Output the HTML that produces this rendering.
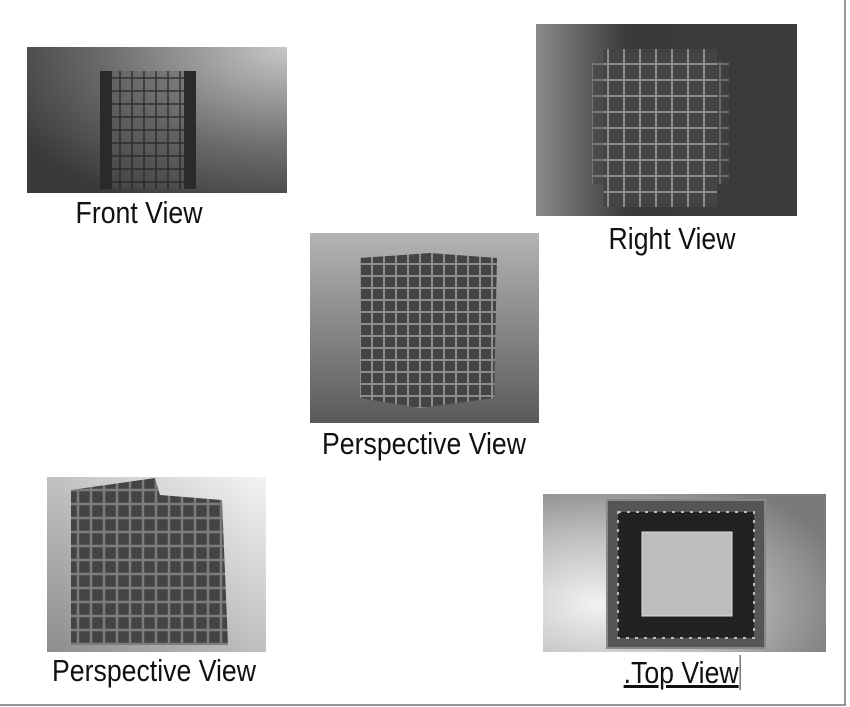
<!DOCTYPE html>
<html><head><meta charset="utf-8"><style>
body{margin:0;background:#fff;width:850px;height:707px;overflow:hidden;position:relative;font-family:"Liberation Sans Narrow","Liberation Sans",sans-serif}
.l{position:absolute;font-size:31px;color:#111;white-space:nowrap;transform:translateX(-50%) scaleX(0.86);line-height:1}
svg{position:absolute;left:0;top:0}
</style></head><body>
<svg width="850" height="707">
<defs>
<radialGradient id="g1" cx="1" cy="0" r="1.2"><stop offset="0" stop-color="#c8c8c8"/><stop offset="0.6" stop-color="#6a6a6a"/><stop offset="1" stop-color="#3a3a3a"/></radialGradient>
<linearGradient id="g2" x1="0" x2="1"><stop offset="0" stop-color="#8a8a8a"/><stop offset="0.35" stop-color="#3a3a3a"/><stop offset="1" stop-color="#3c3c3c"/></linearGradient>
<linearGradient id="g3" x1="0" y1="0" x2="0" y2="1"><stop offset="0" stop-color="#b4b4b4"/><stop offset="1" stop-color="#5a5a5a"/></linearGradient>
<linearGradient id="g4" x1="0" y1="1" x2="1" y2="0"><stop offset="0" stop-color="#8c8c8c"/><stop offset="1" stop-color="#f4f4f4"/></linearGradient>
<radialGradient id="g5" cx="0.2" cy="0.7" r="0.9"><stop offset="0" stop-color="#f2f2f2"/><stop offset="0.5" stop-color="#bdbdbd"/><stop offset="1" stop-color="#7a7a7a"/></radialGradient>
<pattern id="p1" width="12" height="13" patternUnits="userSpaceOnUse"><rect width="12" height="13" fill="none" stroke="#222" stroke-width="1.5"/></pattern>
<pattern id="p2" width="16" height="16" patternUnits="userSpaceOnUse"><rect width="16" height="16" fill="#444" stroke="#8a8a8a" stroke-width="2"/></pattern>
<pattern id="p3" width="12" height="12" patternUnits="userSpaceOnUse"><rect width="12" height="12" fill="#444" stroke="#8e8e8e" stroke-width="2"/></pattern>
<pattern id="p4" width="13" height="14" patternUnits="userSpaceOnUse"><rect width="13" height="14" fill="#444" stroke="#7c7c7c" stroke-width="2.5"/></pattern>
</defs>
<line x1="845" y1="0" x2="845" y2="705" stroke="#777" stroke-width="1.5"/>
<line x1="0" y1="705" x2="846" y2="705" stroke="#777" stroke-width="1.5"/>
<rect x="27" y="47" width="260" height="146" fill="url(#g1)"/>
<rect x="100" y="71" width="96" height="118" fill="#555" opacity="0.35"/>
<rect x="100" y="71" width="96" height="118" fill="url(#p1)" opacity="0.8"/>
<rect x="100" y="71" width="12" height="118" fill="#2a2a2a"/>
<rect x="184" y="71" width="12" height="118" fill="#2a2a2a"/>
<rect x="536" y="24" width="261" height="192" fill="url(#g2)"/>
<rect x="592" y="62" width="137" height="122" fill="url(#p2)" opacity="0.6"/>
<rect x="604" y="49" width="113" height="158" fill="url(#p2)"/>
<rect x="310" y="233" width="229" height="190" fill="url(#g3)"/>
<polygon points="360,258 430,253 497,258 494,398 420,408 360,398" fill="url(#p3)"/>
<rect x="47" y="477" width="219" height="175" fill="url(#g4)"/>
<polygon points="71,490 155,478 160,495 222,500 228,645 71,645" fill="url(#p4)"/>
<rect x="543" y="494" width="283" height="158" fill="url(#g5)"/>
<rect x="607" y="500" width="158" height="148" fill="#555" stroke="#888" stroke-width="2"/>
<rect x="618" y="512" width="136" height="126" fill="#222" stroke="#bbb" stroke-dasharray="3 6" stroke-width="2"/>
<rect x="642" y="532" width="90" height="84" fill="#bdbdbd" stroke="#ddd"/>
</svg>
<div class="l" style="left:139px;top:197px">Front View</div>
<div class="l" style="left:672px;top:223px">Right View</div>
<div class="l" style="left:424px;top:428px">Perspective View</div>
<div class="l" style="left:154px;top:655px">Perspective View</div>
<div class="l" style="left:682px;top:657px;text-decoration:underline">.Top View<span style="border-left:1px solid #111;margin-left:1px"></span></div>
</body></html>
